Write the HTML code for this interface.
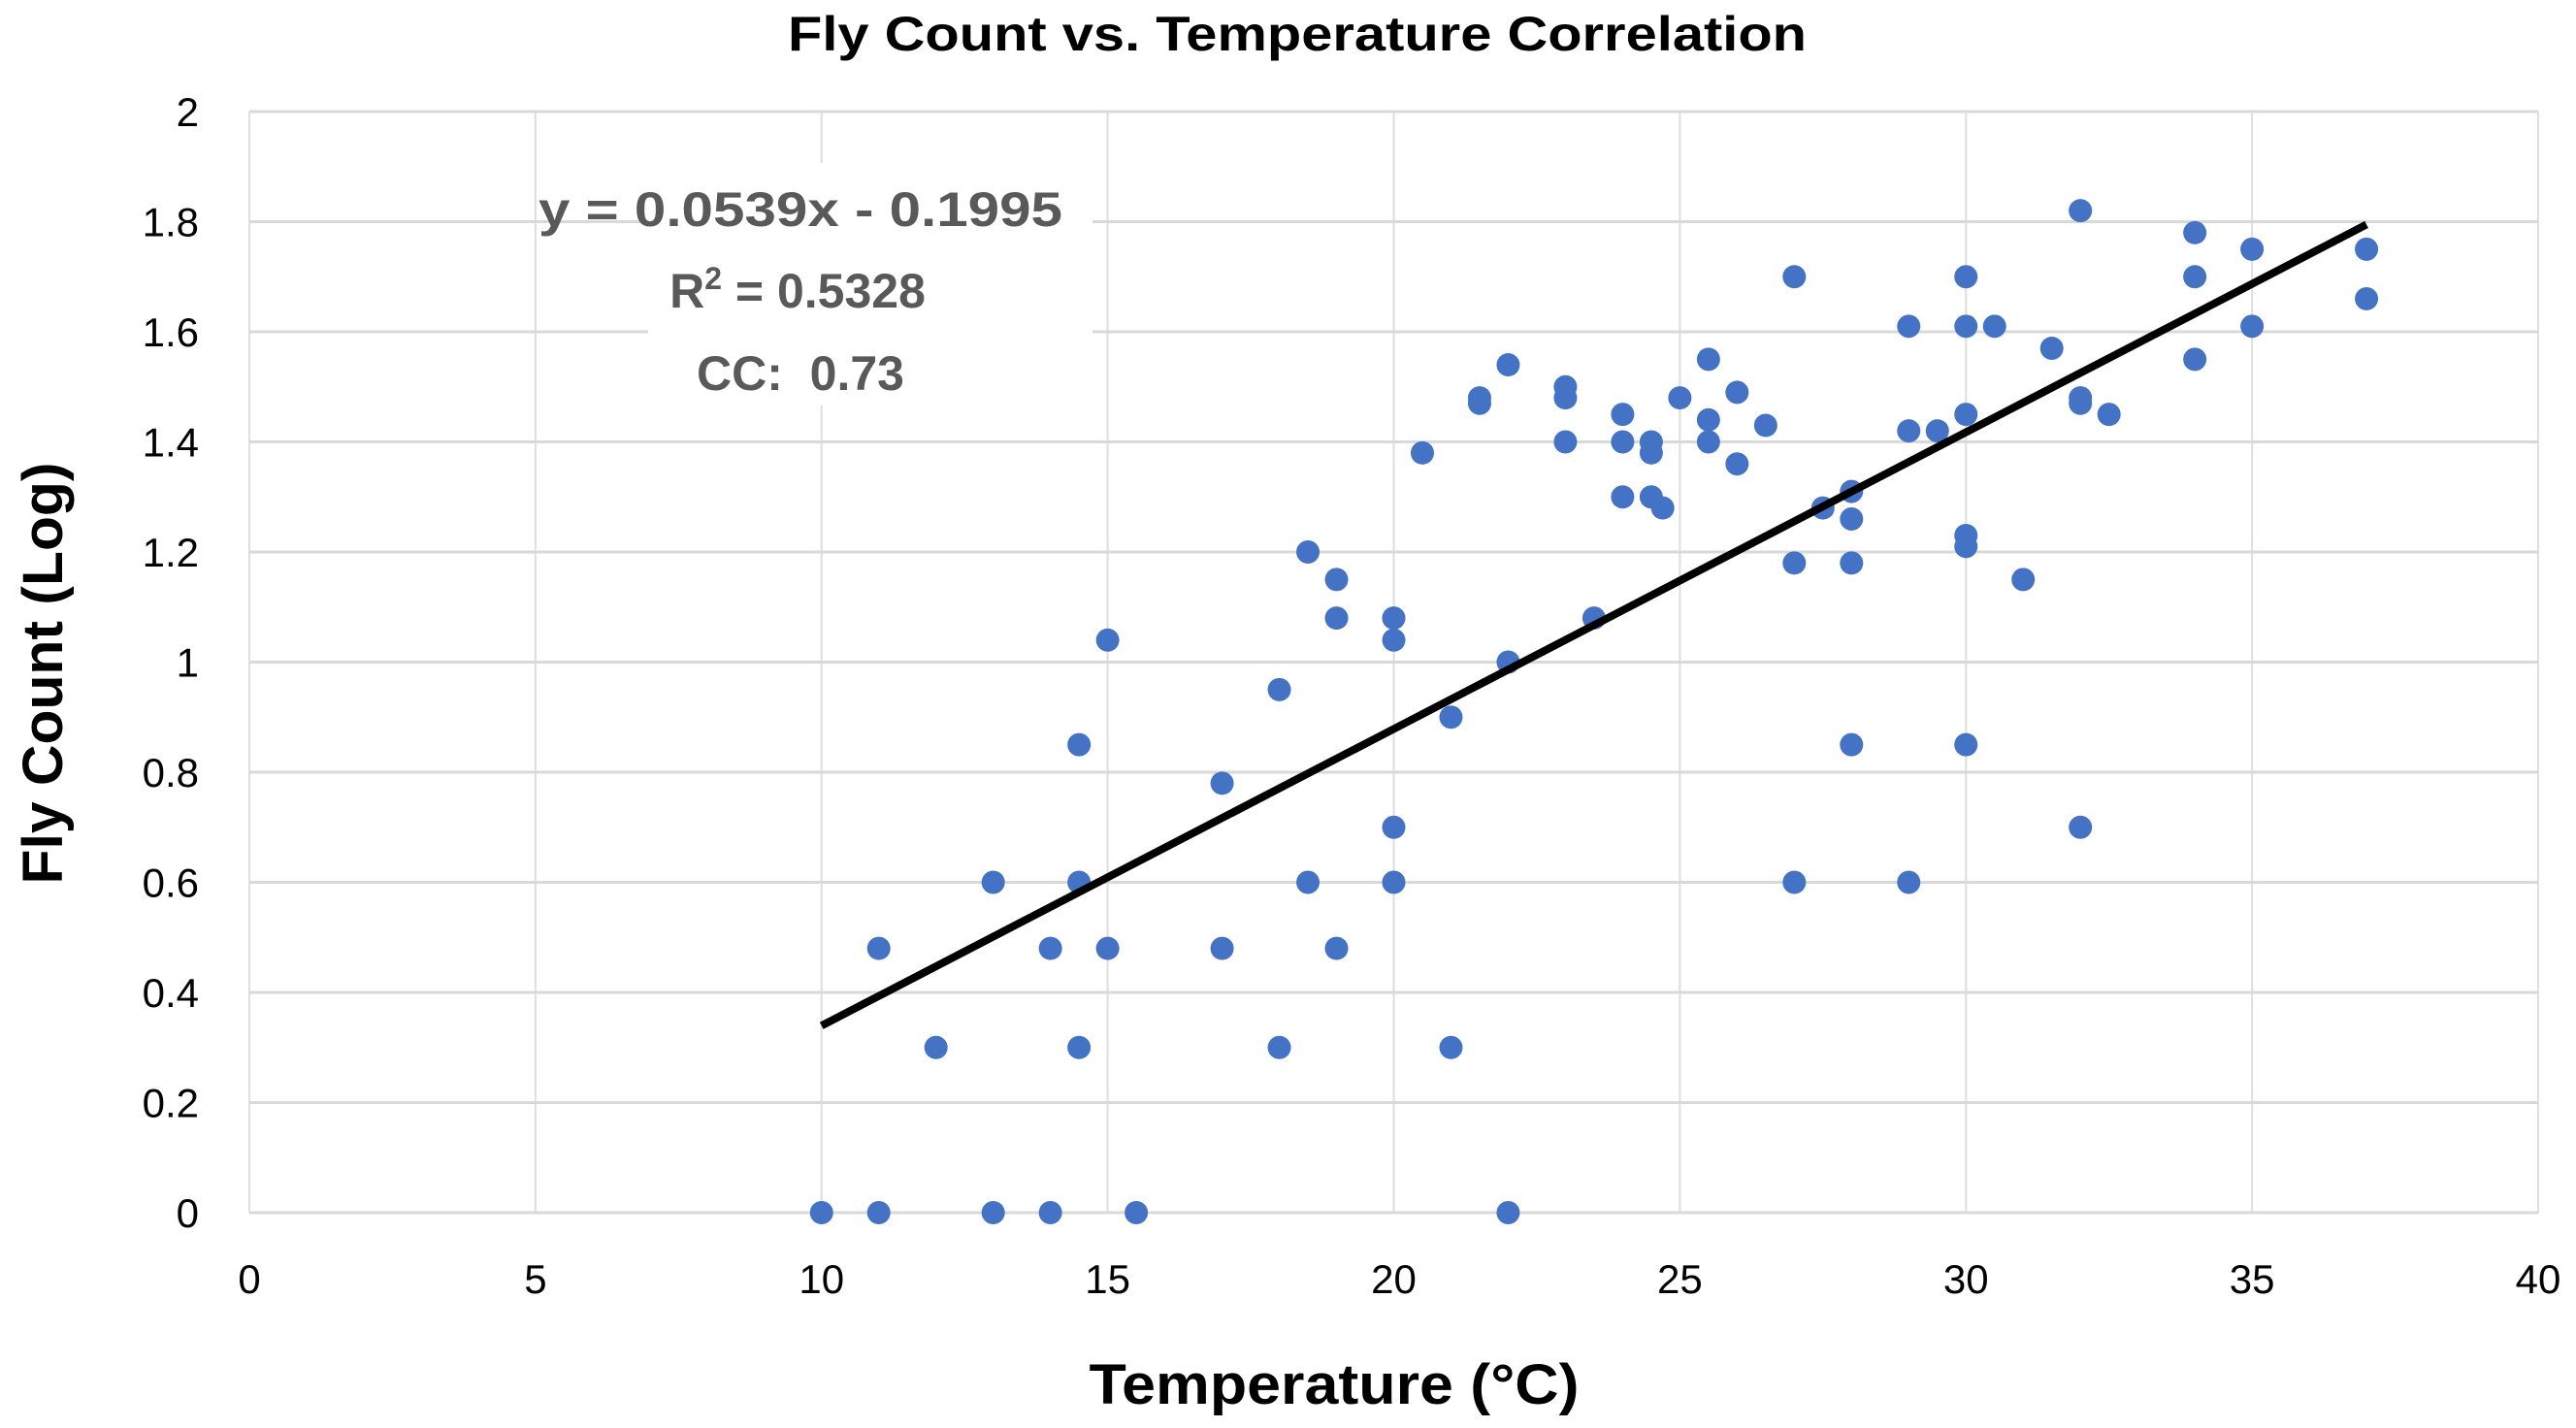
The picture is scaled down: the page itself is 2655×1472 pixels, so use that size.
<!DOCTYPE html>
<html><head><meta charset="utf-8"><style>
html,body{margin:0;padding:0;background:#fff}
svg{display:block}
text{font-family:"Liberation Sans",sans-serif}
</style></head><body>
<svg id="chart" width="2655" height="1472" viewBox="0 0 2655 1472" xmlns="http://www.w3.org/2000/svg">
<rect width="2655" height="1472" fill="#fff"/>
<g id="grid"></g>
<rect x="668" y="168" width="458" height="250" fill="#fff"/>
<g id="ticks"></g>
<g id="points"></g>
<g id="trend"></g>
<text x="1337" y="52" text-anchor="middle" font-size="50" font-weight="bold" textLength="1050" lengthAdjust="spacingAndGlyphs">Fly Count vs. Temperature Correlation</text>
<text x="1375" y="1447" text-anchor="middle" font-size="58" font-weight="bold" textLength="505" lengthAdjust="spacingAndGlyphs">Temperature (°C)</text>
<text transform="translate(64,694) rotate(-90)" text-anchor="middle" font-size="58" font-weight="bold" textLength="435" lengthAdjust="spacingAndGlyphs">Fly Count (Log)</text>
<g fill="#595959" font-weight="bold" font-size="50" text-anchor="middle">
<text x="825" y="233" textLength="540" lengthAdjust="spacingAndGlyphs">y = 0.0539x - 0.1995</text>
<text x="822" y="317">R<tspan font-size="32" dy="-19">2</tspan><tspan dy="19"> = 0.5328</tspan></text>
<text x="825" y="402" xml:space="preserve">CC:  0.73</text>
</g>
</svg>
<script>
const xs = [10,11,13,14,15.5,22,11,12,13,14,14.5,14.5,14.5,15,15,17,17,18,18,18.5,18.5,19,19,19,20,20,20,20,21,21,20.5,21.5,21.5,22,22,23,23,23,23.5,24,24,24,24.5,24.5,24.5,24.7,25,25.5,25.5,25.5,26,26,26.5,27,27,27,27.5,28,28,28,28,29,29,29,29.5,30,30,30,30,30,30,30.5,31,31.5,32,32,32,32,32.5,34,34,34,35,35,37,37];
const ys = [0,0,0,0,0,0,0.48,0.30,0.60,0.48,0.30,0.60,0.85,1.04,0.48,0.48,0.78,0.30,0.95,0.60,1.20,0.48,1.08,1.15,0.60,0.70,1.04,1.08,0.30,0.90,1.38,1.47,1.48,1.54,1.00,1.50,1.48,1.40,1.08,1.45,1.40,1.30,1.40,1.38,1.30,1.28,1.48,1.55,1.44,1.40,1.49,1.36,1.43,1.70,1.18,0.60,1.28,1.31,1.26,1.18,0.85,1.61,1.42,0.60,1.42,1.70,1.61,1.45,1.23,1.21,0.85,1.61,1.15,1.57,1.82,1.48,1.47,0.70,1.45,1.78,1.70,1.55,1.75,1.61,1.75,1.66];
const xTicks = [0,5,10,15,20,25,30,35,40];
const yTicks = [0,0.2,0.4,0.6,0.8,1,1.2,1.4,1.6,1.8,2];
const slope = [0.0539];
const intercept = [-0.1995];
const trendRange = [10,37];

const NS='http://www.w3.org/2000/svg';
const X0=257,X1=2616,Y0=1250,Y1=115;
const sx=v=>X0+(v-0)/(40-0)*(X1-X0);
const sy=v=>Y0-(v-0)/(2-0)*(Y0-Y1);
function mk(tag,attrs,parent){const e=document.createElementNS(NS,tag);for(const k in attrs)e.setAttribute(k,attrs[k]);parent.appendChild(e);return e;}
const grid=document.getElementById('grid'),ticks=document.getElementById('ticks');
xTicks.forEach(t=>{
  const l=mk('line',{x1:sx(t),x2:sx(t),y1:Y1,y2:Y0,stroke:'#dedede','stroke-width':2},grid);
  
  
  const tx=mk('text',{x:sx(t),y:1333,'text-anchor':'middle','font-size':42},ticks);
  tx.textContent=t;
  
  
});
yTicks.forEach(t=>{
  const l=mk('line',{x1:X0,x2:X1,y1:sy(t),y2:sy(t),stroke:'#d9d9d9','stroke-width':3},grid);
  
  
  const tx=mk('text',{x:205,y:sy(t)+15,'text-anchor':'end','font-size':42},ticks);
  tx.textContent=String(t);
  
  
});
const pts=document.getElementById('points');
xs.forEach((x,i)=>{
  const c=mk('circle',{cx:sx(x),cy:sy(ys[i]),r:12,fill:'#4472c4'},pts);
  
  
});
const tr=document.getElementById('trend');
const ln=mk('line',{x1:sx(trendRange[0]),y1:sy(slope[0]*trendRange[0]+intercept[0]),x2:sx(trendRange[1]),y2:sy(slope[0]*trendRange[1]+intercept[0]),stroke:'#000','stroke-width':8},tr);


</script>
</body></html>
